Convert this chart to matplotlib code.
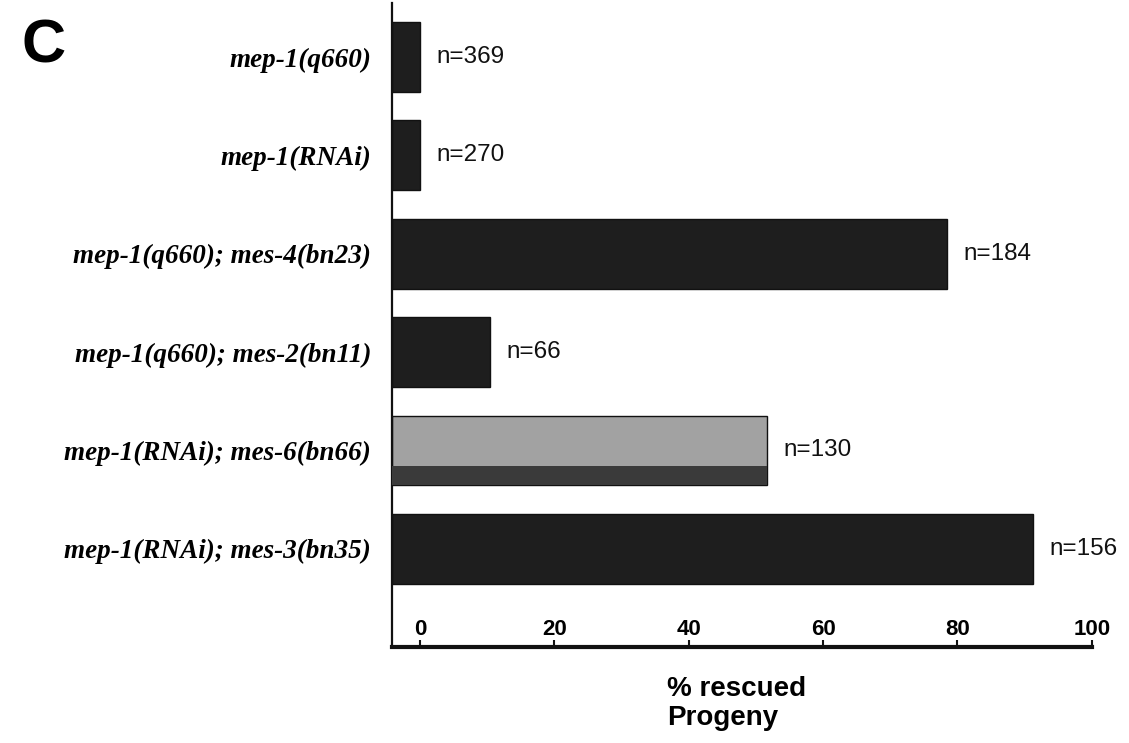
import matplotlib
matplotlib.use("Agg")
import matplotlib.pyplot as plt
from matplotlib import font_manager

# ---- data ----
genotypes = [
    "mep-1(q660)",
    "mep-1(RNAi)",
    "mep-1(q660); mes-4(bn23)",
    "mep-1(q660); mes-2(bn11)",
    "mep-1(RNAi); mes-6(bn66)",
    "mep-1(RNAi); mes-3(bn35)",
]
rescued_pct = [0.0, 0.0, 78.4, 10.4, 51.6, 91.2]
n_counts = [369, 270, 184, 66, 130, 156]
x_ticks = [0, 20, 40, 60, 80, 100]

# ---- style ----
names = {f.name for f in font_manager.fontManager.ttflist}
tick_family = ["Liberation Sans Narrow", "Liberation Sans", "DejaVu Sans"]
tick_family = [f for f in tick_family if f in names] or ["DejaVu Sans"]

fig = plt.figure(figsize=(11.29, 7.43), dpi=100)
ax = fig.add_axes([0.347, 0.129, 0.620, 0.867])

x0 = -4.2
ax.set_xlim(x0, 100)
ax.set_ylim(6.0, -0.55)

bar_colors = ["#1e1e1e", "#1e1e1e", "#1e1e1e", "#1e1e1e", "#a2a2a2", "#1e1e1e"]
ys = list(range(len(genotypes)))
ax.barh(ys, [v - x0 for v in rescued_pct], left=x0, height=0.71,
        color=bar_colors, edgecolor="#111111", linewidth=1.0, zorder=2)
# darker lower band on the lighter bar
for y, v, c in zip(ys, rescued_pct, bar_colors):
    if c != "#1e1e1e":
        ax.barh(y + 0.255, v - x0, left=x0, height=0.19, color="#3a3a3a",
                edgecolor="none", zorder=3)

for y, v, n in zip(ys, rescued_pct, n_counts):
    ax.annotate(f"n={n}", xy=(v, y), xytext=(12, 0), textcoords="offset points",
                ha="left", va="center", fontsize=17.5,
                family=["Liberation Sans", "DejaVu Sans"], color="#111111")

ax.set_yticks(ys)
ax.set_yticklabels(genotypes, family=["Liberation Serif", "DejaVu Serif"],
                   fontweight="bold", fontstyle="italic", fontsize=19.5)
ax.tick_params(axis="y", length=0, pad=15)

ax.set_xticks(x_ticks)
ax.set_xticklabels([str(t) for t in x_ticks], family=tick_family,
                   fontweight="bold", fontsize=16)
ax.tick_params(axis="x", direction="in", length=5, width=1.5, pad=-20,
               color="#111111")

for s in ["top", "right"]:
    ax.spines[s].set_visible(False)
ax.spines["left"].set_linewidth(1.6)
ax.spines["bottom"].set_linewidth(3.0)
ax.spines["left"].set_color("#111111")
ax.spines["bottom"].set_color("#111111")

fig.text(0.591, 0.090, "% rescued\nProgeny", ha="left", va="top",
         fontsize=20, fontweight="bold", family=["Liberation Sans", "DejaVu Sans"],
         linespacing=1.15)
fig.text(0.019, 0.937, "C", ha="left", va="center", fontsize=44,
         fontweight="bold", family=["Liberation Sans", "DejaVu Sans"])

fig.savefig("out.png", dpi=100)
